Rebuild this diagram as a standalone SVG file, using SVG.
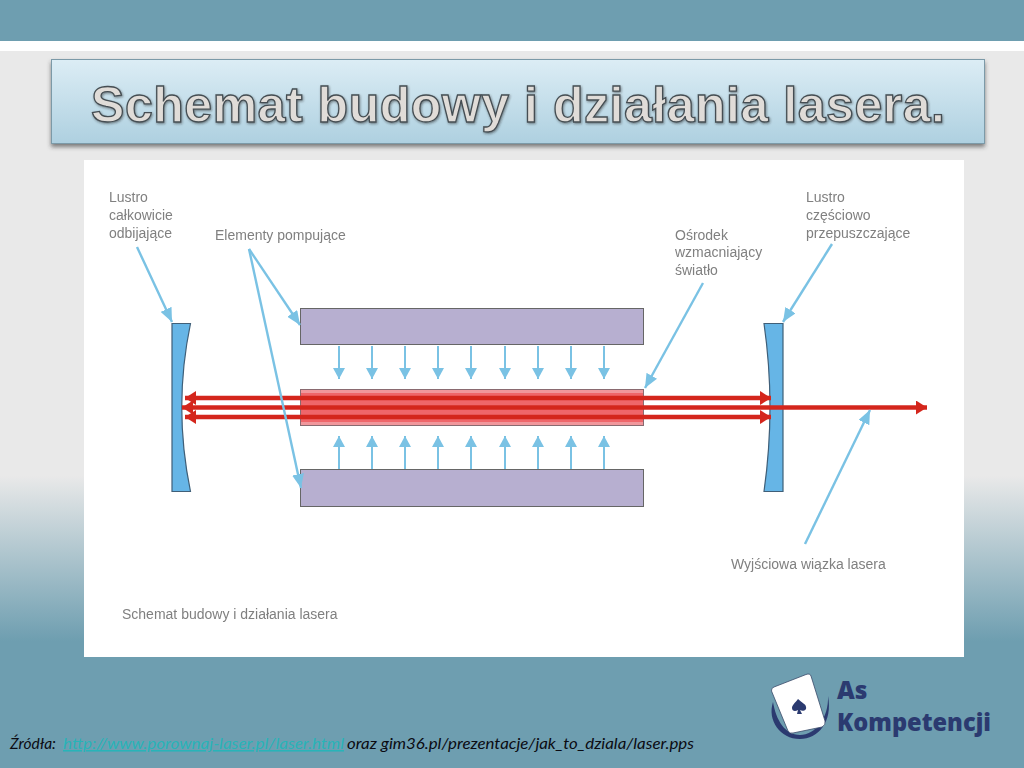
<svg xmlns="http://www.w3.org/2000/svg" width="1024" height="768" viewBox="0 0 1024 768">
<style>
.lbl{font-family:"Liberation Sans",Arial,sans-serif;font-size:14px;fill:#808080}
.pump{fill:#b7afd0;stroke:#666;stroke-width:1}
.mirror{fill:#66b5e6;stroke:#3f5f78;stroke-width:1.200}
.lead{stroke:#7ac2e4;stroke-width:2.400;fill:none;marker-end:url(#blue)}
.pumpa{stroke:#7ac2e4;stroke-width:2;fill:none;marker-end:url(#bluep)}
.beam{stroke:#d4281f;stroke-width:4.500;fill:none;marker-end:url(#red)}
.foot{font-family:"Lato","Open Sans",sans-serif;font-style:italic;font-size:15.500px;fill:#0b0b12}
.logo{font-family:"Noto Sans","Open Sans",sans-serif;font-weight:900;fill:#2b3a70}
</style>
<defs>
<linearGradient id="bg" x1="0" y1="0" x2="0" y2="1"><stop offset="0" stop-color="#e9e9e9"/><stop offset="0.72" stop-color="#e9e9e9"/><stop offset="1" stop-color="#6e9eb0"/></linearGradient>
<linearGradient id="tb" x1="0" y1="0" x2="0" y2="1"><stop offset="0" stop-color="#dcedf5"/><stop offset="1" stop-color="#aed0e0"/></linearGradient>
<filter id="sh" x="-5%" y="-20%" width="110%" height="140%"><feDropShadow dx="0" dy="3" stdDeviation="2" flood-color="#333" flood-opacity="0.6"/></filter>
<filter id="tsh" x="-5%" y="-20%" width="110%" height="140%"><feDropShadow dx="0.800" dy="1.200" stdDeviation="0.800" flood-color="#222" flood-opacity="0.5"/></filter>
<filter id="soft"><feGaussianBlur stdDeviation="0.400"/></filter>
<marker id="blue" markerUnits="userSpaceOnUse" markerWidth="15" markerHeight="12" refX="14" refY="6" orient="auto"><path d="M0 0L14 6L0 12z" fill="#7ac2e4"/></marker>
<marker id="bluep" markerUnits="userSpaceOnUse" markerWidth="12" markerHeight="12" refX="11" refY="6" orient="auto"><path d="M0 0L11 6L0 12z" fill="#7ac2e4"/></marker>
<marker id="red" markerUnits="userSpaceOnUse" markerWidth="12" markerHeight="14" refX="11" refY="7" orient="auto-start-reverse"><path d="M0 0L11 7L0 14z" fill="#d4281f"/></marker>
</defs>
<g id="background">
<rect width="1024" height="768" fill="#6e9eb0"/>
<rect y="41" width="1024" height="10" fill="#fff"/>
<rect y="51" width="1024" height="590" fill="url(#bg)"/>
</g>
<g id="title">
<rect x="51.500" y="59.500" width="933" height="84" fill="url(#tb)" stroke="#7b9aa8" filter="url(#sh)"/>
<text x="91" y="122" font-family="Liberation Sans,Arial,sans-serif" font-weight="700" font-size="50" textLength="854" fill="#e0dcd8" stroke="#454e53" stroke-width="1.300" filter="url(#tsh)">Schemat budowy i działania lasera.</text>
</g>
<rect id="panel" x="84" y="160" width="880" height="497" fill="#fff"/>
<g filter="url(#soft)">
<g id="pump-top"><rect class="pump" x="300.500" y="308.500" width="343" height="36"/></g>
<g id="pump-bottom"><rect class="pump" x="300.500" y="469.500" width="343" height="37"/></g>
<g id="medium"><rect x="300.500" y="389.500" width="343" height="36" fill="#f0979c" stroke="#8a6a70"/><rect x="301" y="393" width="342" height="29" fill="#ef666b"/></g>
<g id="mirror-left"><path class="mirror" d="M172 323.500H190.500Q173 407 190.500 491.500H172Z"/></g>
<g id="mirror-right"><path class="mirror" d="M783 323.500H764Q776 407 764 491.500H783Z"/></g>
<g id="connectors">
<path class="beam" d="M185 398H771" marker-start="url(#red)"/>
<path class="beam" d="M182 407.500H927" marker-start="url(#red)"/>
<path class="beam" d="M185 417H771" marker-start="url(#red)"/>
<path class="lead" d="M137 247L172 322"/>
<path class="lead" d="M249 249L300 325"/>
<path class="lead" d="M249 249L301 488"/>
<path class="lead" d="M703 283L645 388"/>
<path class="lead" d="M832 244L783 322"/>
<path class="lead" d="M805 544L870 410"/>
<path class="pumpa" d="M339 346V379"/><path class="pumpa" d="M372 346V379"/><path class="pumpa" d="M405 346V379"/><path class="pumpa" d="M438 346V379"/><path class="pumpa" d="M471 346V379"/><path class="pumpa" d="M505 346V379"/><path class="pumpa" d="M538 346V379"/><path class="pumpa" d="M571 346V379"/><path class="pumpa" d="M604 346V379"/>
<path class="pumpa" d="M339 469V436"/><path class="pumpa" d="M372 469V436"/><path class="pumpa" d="M405 469V436"/><path class="pumpa" d="M438 469V436"/><path class="pumpa" d="M471 469V436"/><path class="pumpa" d="M505 469V436"/><path class="pumpa" d="M538 469V436"/><path class="pumpa" d="M571 469V436"/><path class="pumpa" d="M604 469V436"/>
</g>
</g>
<g id="labels" filter="url(#soft)">
<text class="lbl" x="109" y="202">Lustro</text>
<text class="lbl" x="109" y="220">całkowicie</text>
<text class="lbl" x="109" y="238">odbijające</text>
<text class="lbl" x="215" y="240">Elementy pompujące</text>
<text class="lbl" x="675" y="240">Ośrodek</text>
<text class="lbl" x="675" y="257">wzmacniający</text>
<text class="lbl" x="675" y="275">światło</text>
<text class="lbl" x="806" y="202">Lustro</text>
<text class="lbl" x="806" y="220">częściowo</text>
<text class="lbl" x="806" y="238">przepuszczające</text>
<text class="lbl" x="731" y="569">Wyjściowa wiązka lasera</text>
<text class="lbl" x="122" y="619">Schemat budowy i działania lasera</text>
</g>
<g id="footer">
<text class="foot" x="10" y="749">Źródła:</text>
<text class="foot" x="63" y="749" textLength="281" lengthAdjust="spacingAndGlyphs" style="fill:#28b4b8;text-decoration:underline">http://www.porownaj-laser.pl/laser.html</text>
<text class="foot" x="347" y="749" textLength="347" lengthAdjust="spacingAndGlyphs">oraz gim36.pl/prezentacje/jak_to_dziala/laser.pps</text>
</g>
<g id="logo">
<path d="M773 702C767 720 780 739 800 739C818 739 833 722 828 696C829 718 815 735 800 735C785 735 776 720 773 702Z" fill="#2b3a70"/>
<path d="M771.500 691Q771 688 774 687L806 674.500Q810 673 811 676L825 721Q826 725 822 727L793 733Q790 734 788 731Z" fill="#fff" stroke="#3a4a6a" stroke-width="0.800"/>
<path d="M798 699C795 703 792 705 792 708C792 711 795 712 798 710L797 714H802L800 710C803 712 807 710 806 707C806 704 802 703 798 699Z" fill="#2b3a70"/>
<text class="logo" x="837" y="699" font-size="24.500">As</text>
<text class="logo" x="837" y="731" font-size="24.500" textLength="154" lengthAdjust="spacingAndGlyphs">Kompetencji</text>
</g>
</svg>
